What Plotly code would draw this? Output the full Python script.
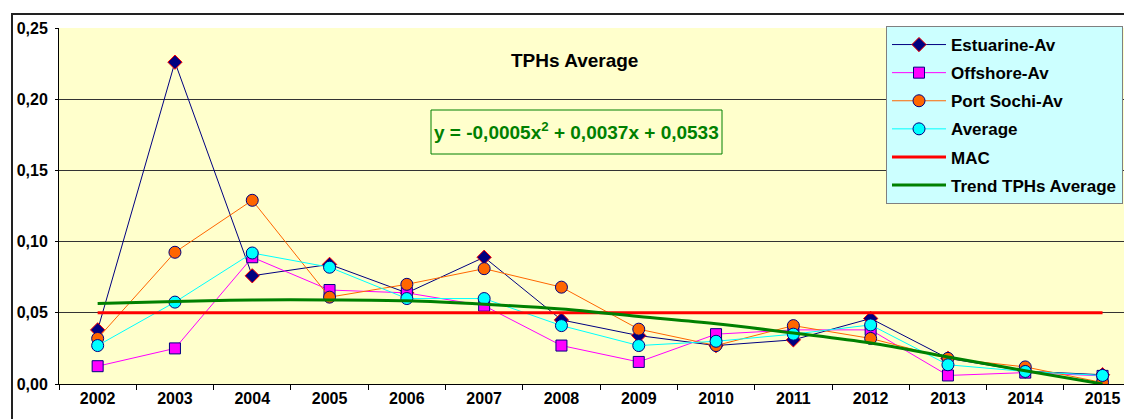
import plotly.graph_objects as go

years = ["2002", "2003", "2004", "2005", "2006", "2007", "2008",
         "2009", "2010", "2011", "2012", "2013", "2014", "2015"]
estuarine = [0.038, 0.226, 0.076, 0.084, 0.064, 0.089, 0.045,
             0.034, 0.027, 0.031, 0.046, 0.018, 0.009, 0.0065]
offshore = [0.0125, 0.025, 0.089, 0.066, 0.064, 0.055, 0.027,
            0.0155, 0.035, 0.038, 0.038, 0.006, 0.008, 0.0057]
port_sochi = [0.032, 0.0925, 0.129, 0.061, 0.070, 0.081, 0.068,
              0.0385, 0.027, 0.041, 0.032, 0.018, 0.012, 0.001]
average = [0.027, 0.0575, 0.092, 0.082, 0.060, 0.060, 0.041,
           0.027, 0.030, 0.035, 0.0415, 0.0135, 0.0088, 0.006]
mac = [0.05] * 14
trend = [0.0565, 0.058, 0.059, 0.059, 0.0584, 0.056, 0.0526,
         0.0474, 0.0423, 0.0358, 0.0288, 0.019, 0.0093, 0.0]

FONT = "Liberation Sans"
OFF = 8  # page body margin
W, H = 1132, 419
L, R, T = 59 - OFF, 0, 28 - OFF
B = H - (384 - OFF)
pw, ph = W - L - R, H - T - B


def px_x(x):
    return (x - OFF - L) / pw


def px_y(y):
    return (H - B - (y - OFF)) / ph


fig = go.Figure()

fig.add_trace(go.Scatter(
    x=years, y=estuarine, name="Estuarine-Av", mode="lines+markers",
    line=dict(color="#000080", width=1),
    marker=dict(symbol="diamond", size=11, color="#000080",
                line=dict(color="#FF0000", width=1)),
    legendgroup="a", legendrank=1))
fig.add_trace(go.Scatter(
    x=years, y=offshore, name="Offshore-Av", mode="lines+markers",
    line=dict(color="#FF00FF", width=1),
    marker=dict(symbol="square", size=11, color="#FF00FF",
                line=dict(color="#000080", width=1)),
    legendgroup="b", legendrank=2))
fig.add_trace(go.Scatter(
    x=years, y=port_sochi, name="Port Sochi-Av", mode="lines+markers",
    line=dict(color="#FF6600", width=1),
    marker=dict(symbol="circle", size=12, color="#FF6600",
                line=dict(color="#000080", width=1)),
    legendgroup="c", legendrank=3))
fig.add_trace(go.Scatter(
    x=years, y=average, name="Average", mode="lines+markers",
    line=dict(color="#00FFFF", width=1),
    marker=dict(symbol="circle", size=12, color="#00FFFF",
                line=dict(color="#000080", width=1)),
    legendgroup="d", legendrank=4))
fig.add_trace(go.Scatter(
    x=years, y=mac, name="MAC", mode="lines",
    line=dict(color="#FF0000", width=3),
    legendgroup="e", legendrank=5))
fig.add_trace(go.Scatter(
    x=years, y=trend, name="Trend TPHs Average", mode="lines",
    line=dict(color="#008000", width=3, shape="spline"),
    legendgroup="f", legendrank=6))

fig.update_layout(
    width=W, height=H,
    margin=dict(l=L, r=R, t=T, b=B),
    paper_bgcolor="white",
    plot_bgcolor="#FFFFCC",
    separators=",.",
    font=dict(family=FONT, size=16, color="black"),
    showlegend=True,
    legend=dict(
        x=px_x(886), y=px_y(26), xanchor="left", yanchor="top",
        bgcolor="#CCFFFF", bordercolor="#808080", borderwidth=1,
        font=dict(family=FONT, size=17, color="black", weight="bold"),
        traceorder="grouped", tracegroupgap=3, itemwidth=54,
    ),
    xaxis=dict(
        type="category", range=[-0.5, -0.5 + pw / 77.3],
        tickson="boundaries", ticks="outside", ticklen=5, tickcolor="black",
        showline=True, linecolor="black", linewidth=1,
        showgrid=False, zeroline=False,
        tickfont=dict(family=FONT, size=16, color="black", weight="bold"),
    ),
    yaxis=dict(
        range=[0, 0.25], dtick=0.05, tickformat=".2f",
        ticks="outside", ticklen=3, tickcolor="black",
        showline=True, linecolor="black", linewidth=1,
        showgrid=True, gridcolor="#333333", gridwidth=1, zeroline=False,
        tickfont=dict(family=FONT, size=16, color="black", weight="bold"),
        ticklabelstandoff=4,
    ),
    shapes=[
        dict(type="rect", xref="paper", yref="paper",
             x0=px_x(12), x1=px_x(1150), y0=px_y(450), y1=px_y(14),
             line=dict(color="#222222", width=2), fillcolor="rgba(0,0,0,0)",
             layer="above"),
        dict(type="rect", xref="paper", yref="paper",
             x0=px_x(431), x1=px_x(722), y0=px_y(154), y1=px_y(110),
             line=dict(color="#008000", width=1), fillcolor="#FFFFCC",
             layer="above"),
    ],
    annotations=[
        dict(text="<b>TPHs Average</b>", xref="paper", yref="paper",
             x=px_x(574), y=px_y(60), xanchor="center", yanchor="middle",
             showarrow=False,
             font=dict(family=FONT, size=19, color="black")),
        dict(text="<b>y = -0,0005x<sup>2</sup> + 0,0037x + 0,0533</b>",
             xref="paper", yref="paper",
             x=px_x(576.5), y=px_y(131), xanchor="center", yanchor="middle",
             showarrow=False,
             font=dict(family=FONT, size=19, color="#008000")),
    ],
)

fig.write_html("out.html")
